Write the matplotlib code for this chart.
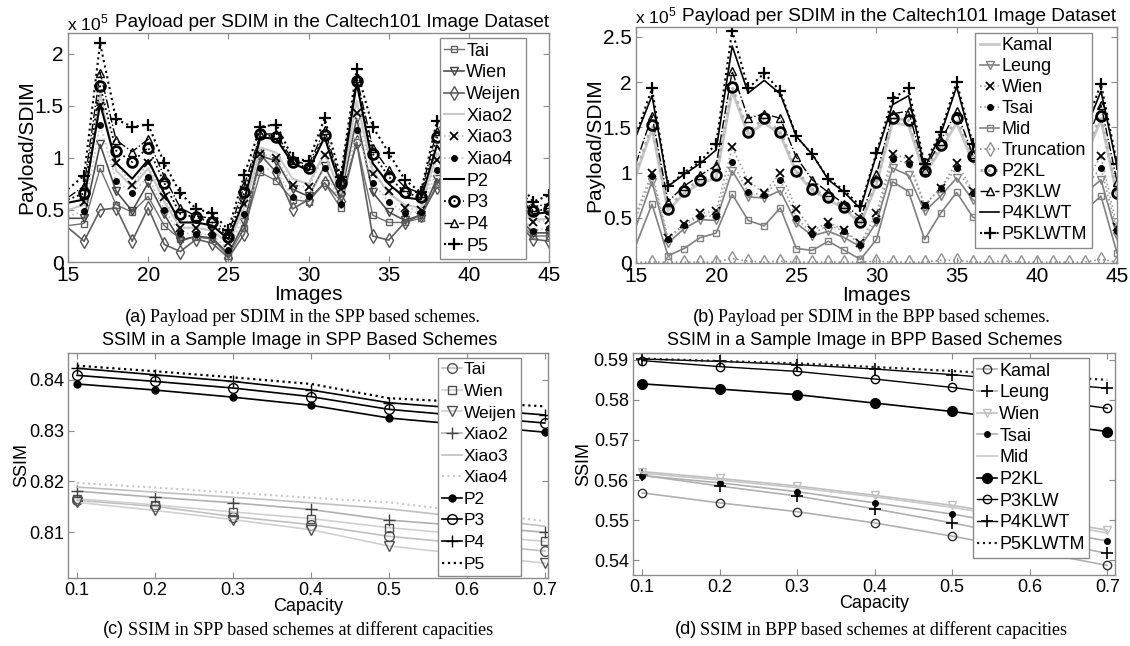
import matplotlib
matplotlib.use('Agg')
from matplotlib import pyplot as plt

plt.rcParams['font.family'] = ['Liberation Sans', 'DejaVu Sans']
plt.rcParams['mathtext.fontset'] = 'custom'
plt.rcParams['mathtext.rm'] = 'Liberation Sans'

# ---------- (a) payload per SDIM, SPP schemes ----------
images = list(range(15, 46))
spp_names = ['Tai', 'Wien', 'Weijen', 'Xiao2', 'Xiao3', 'Xiao4', 'P2', 'P3', 'P4', 'P5']
spp_tai = [0.35, 0.37, 0.90, 0.55, 0.48, 0.63, 0.35, 0.22, 0.24, 0.22, 0.06, 0.33, 0.86, 0.78, 0.60, 0.58,
           0.76, 0.52, 1.15, 0.45, 0.38, 0.38, 0.42, 0.75, 0.58, 0.50, 0.54, 0.46, 0.40, 0.25, 0.25]
spp_wien = [0.42, 0.42, 1.13, 0.68, 0.49, 0.76, 0.46, 0.20, 0.25, 0.23, 0.08, 0.38, 1.02, 0.97, 0.70, 0.63,
            0.92, 0.62, 1.38, 0.67, 0.48, 0.40, 0.45, 0.80, 0.62, 0.55, 0.58, 0.50, 0.44, 0.28, 0.28]
spp_weijen = [0.33, 0.20, 0.50, 0.52, 0.20, 0.52, 0.17, 0.10, 0.22, 0.18, 0.04, 0.27, 1.03, 0.86, 0.51, 0.60,
              0.76, 0.59, 1.15, 0.25, 0.21, 0.38, 0.45, 0.72, 0.55, 0.48, 0.52, 0.44, 0.38, 0.22, 0.20]
spp_xiao2 = [0.50, 0.55, 1.62, 0.88, 0.72, 0.90, 0.58, 0.33, 0.33, 0.30, 0.18, 0.52, 1.10, 1.05, 0.80, 0.75,
             1.05, 0.66, 1.55, 0.88, 0.66, 0.55, 0.52, 1.05, 0.82, 0.72, 0.76, 0.66, 0.58, 0.40, 0.42]
spp_xiao3 = [0.48, 0.58, 1.50, 0.95, 0.74, 0.95, 0.62, 0.33, 0.33, 0.30, 0.18, 0.56, 1.04, 1.00, 0.74, 0.72,
             1.03, 0.70, 1.43, 0.85, 0.68, 0.52, 0.50, 0.98, 0.78, 0.68, 0.72, 0.62, 0.55, 0.38, 0.40]
spp_xiao4 = [0.44, 0.49, 1.32, 0.78, 0.66, 0.82, 0.50, 0.28, 0.27, 0.26, 0.12, 0.46, 0.90, 0.88, 0.62, 0.63,
             0.90, 0.56, 1.27, 0.76, 0.58, 0.47, 0.48, 0.88, 0.70, 0.62, 0.66, 0.56, 0.50, 0.30, 0.33]
spp_p2 = [0.57, 0.60, 1.52, 0.95, 0.80, 0.98, 0.66, 0.38, 0.38, 0.35, 0.22, 0.60, 1.20, 1.18, 0.95, 0.88,
          1.20, 0.72, 1.72, 0.95, 0.75, 0.62, 0.60, 1.12, 0.90, 0.80, 0.84, 0.74, 0.66, 0.46, 0.48]
spp_p3 = [0.60, 0.66, 1.69, 1.07, 0.96, 1.10, 0.76, 0.46, 0.43, 0.38, 0.24, 0.67, 1.23, 1.20, 0.96, 0.90,
          1.22, 0.76, 1.74, 1.04, 0.82, 0.67, 0.62, 1.20, 0.95, 0.84, 0.88, 0.78, 0.70, 0.49, 0.51]
spp_p4 = [0.62, 0.73, 1.82, 1.17, 1.06, 1.18, 0.82, 0.52, 0.44, 0.42, 0.27, 0.74, 1.23, 1.23, 0.98, 0.93,
          1.27, 0.78, 1.77, 1.10, 0.88, 0.72, 0.66, 1.26, 1.00, 0.88, 0.92, 0.82, 0.74, 0.53, 0.56]
spp_p5 = [0.70, 0.83, 2.10, 1.37, 1.30, 1.32, 0.95, 0.66, 0.51, 0.47, 0.31, 0.84, 1.30, 1.32, 1.00, 0.97,
          1.38, 0.82, 1.85, 1.30, 1.05, 0.79, 0.67, 1.35, 1.10, 0.95, 1.00, 0.90, 0.80, 0.58, 0.64]

# ---------- (b) payload per SDIM, BPP schemes ----------
bpp_names = ['Kamal', 'Leung', 'Wien', 'Tsai', 'Mid', 'Truncation', 'P2KL', 'P3KLW', 'P4KLWT', 'P5KLWTM']
bpp_kamal = [0.97, 1.48, 0.58, 0.77, 0.88, 0.94, 1.90, 1.42, 1.55, 1.42, 1.00, 0.80, 0.70, 0.60, 0.43, 0.87,
             1.55, 1.52, 0.98, 1.25, 1.55, 1.12, 0.95, 1.10, 1.00, 0.86, 0.98, 1.05, 1.17, 1.58, 0.74]
bpp_leung = [0.40, 0.90, 0.22, 0.38, 0.48, 0.47, 1.02, 0.73, 0.72, 0.80, 0.44, 0.30, 0.35, 0.28, 0.18, 0.45,
             1.05, 0.97, 0.57, 0.74, 0.94, 0.70, 0.60, 0.70, 0.62, 0.50, 0.60, 0.67, 0.77, 0.92, 0.30]
bpp_wien = [0.55, 1.00, 0.28, 0.43, 0.55, 0.57, 1.28, 0.91, 0.77, 1.00, 0.60, 0.36, 0.45, 0.36, 0.22, 0.55,
            1.21, 1.15, 0.64, 0.83, 1.11, 0.80, 0.70, 0.80, 0.72, 0.60, 0.70, 0.78, 0.90, 1.18, 0.40]
bpp_tsai = [0.50, 0.96, 0.26, 0.42, 0.52, 0.52, 1.12, 0.78, 0.75, 0.92, 0.50, 0.32, 0.42, 0.35, 0.20, 0.48,
            1.15, 1.10, 0.64, 0.83, 1.05, 0.77, 0.65, 0.75, 0.68, 0.56, 0.66, 0.73, 0.84, 1.05, 0.35]
bpp_mid = [0.20, 0.65, 0.08, 0.16, 0.28, 0.33, 0.76, 0.47, 0.41, 0.61, 0.16, 0.14, 0.24, 0.14, 0.04, 0.26,
           0.90, 0.79, 0.26, 0.55, 0.78, 0.51, 0.40, 0.50, 0.42, 0.32, 0.40, 0.48, 0.58, 0.74, 0.11]
bpp_trunc = [0.01, 0.01, 0.01, 0.01, 0.01, 0.01, 0.05, 0.02, 0.01, 0.02, 0.01, 0.01, 0.01, 0.01, 0.01, 0.02,
             0.01, 0.01, 0.01, 0.03, 0.03, 0.01, 0.01, 0.02, 0.01, 0.01, 0.01, 0.01, 0.01, 0.04, 0.01]
bpp_p2 = [1.00, 1.53, 0.60, 0.80, 0.92, 0.97, 1.95, 1.45, 1.60, 1.45, 1.02, 0.82, 0.73, 0.62, 0.45, 0.90,
          1.60, 1.58, 1.02, 1.30, 1.60, 1.18, 1.00, 1.15, 1.05, 0.90, 1.02, 1.10, 1.22, 1.63, 0.77]
bpp_p3 = [1.10, 1.63, 0.68, 0.85, 0.97, 1.08, 2.12, 1.60, 1.65, 1.60, 1.17, 0.92, 0.78, 0.65, 0.50, 0.98,
          1.65, 1.68, 1.03, 1.35, 1.68, 1.20, 1.05, 1.22, 1.12, 0.95, 1.08, 1.18, 1.30, 1.75, 0.90]
bpp_p4 = [1.40, 1.85, 0.85, 0.98, 1.10, 1.25, 2.40, 1.88, 2.02, 1.87, 1.40, 1.20, 0.92, 0.78, 0.60, 1.20,
          1.75, 1.85, 1.05, 1.42, 1.95, 1.30, 1.18, 1.36, 1.27, 1.08, 1.22, 1.32, 1.46, 1.90, 1.07]
bpp_p5 = [1.42, 1.93, 0.85, 1.00, 1.12, 1.32, 2.57, 1.93, 2.10, 1.90, 1.40, 1.20, 0.93, 0.80, 0.63, 1.22,
          1.82, 1.93, 1.09, 1.45, 2.00, 1.32, 1.20, 1.40, 1.30, 1.10, 1.25, 1.35, 1.50, 1.98, 1.10]

# ---------- (c) SSIM, SPP schemes ----------
capacity = [0.1, 0.2, 0.3, 0.4, 0.5, 0.7]
ssim_spp_tai = [0.8163, 0.8151, 0.8131, 0.8115, 0.8092, 0.8063]
ssim_spp_wien = [0.8166, 0.8154, 0.8140, 0.8127, 0.8109, 0.8082]
ssim_spp_weijen = [0.8159, 0.8143, 0.8125, 0.8105, 0.8073, 0.8039]
ssim_spp_xiao2 = [0.8181, 0.8169, 0.8158, 0.8145, 0.8124, 0.8100]
ssim_spp_xiao3 = [0.8189, 0.8179, 0.8169, 0.8158, 0.8146, 0.8112]
ssim_spp_xiao4 = [0.8197, 0.8188, 0.8178, 0.8168, 0.8159, 0.8122]
ssim_spp_p2 = [0.8392, 0.8380, 0.8366, 0.8350, 0.8325, 0.8297]
ssim_spp_p3 = [0.8409, 0.8397, 0.8384, 0.8367, 0.8342, 0.8315]
ssim_spp_p4 = [0.8423, 0.8410, 0.8397, 0.8380, 0.8355, 0.8331]
ssim_spp_p5 = [0.8428, 0.8417, 0.8405, 0.8392, 0.8364, 0.8348]

# ---------- (d) SSIM, BPP schemes ----------
bpp_ssim_names = ['Kamal', 'Leung', 'Wien', 'Tsai', 'Mid', 'P2KL', 'P3KLW', 'P4KLWT', 'P5KLWTM']
ssim_bpp_kamal = [0.5568, 0.5543, 0.5521, 0.5493, 0.5460, 0.5387]
ssim_bpp_leung = [0.5612, 0.5585, 0.5560, 0.5528, 0.5493, 0.5417]
ssim_bpp_wien = [0.5621, 0.5604, 0.5585, 0.5562, 0.5537, 0.5475]
ssim_bpp_tsai = [0.5611, 0.5593, 0.5571, 0.5543, 0.5515, 0.5448]
ssim_bpp_mid = [0.5617, 0.5600, 0.5581, 0.5558, 0.5532, 0.5468]
ssim_bpp_p2 = [0.5840, 0.5827, 0.5813, 0.5792, 0.5771, 0.5721]
ssim_bpp_p3 = [0.5898, 0.5883, 0.5871, 0.5852, 0.5831, 0.5779]
ssim_bpp_p4 = [0.5902, 0.5896, 0.5888, 0.5877, 0.5863, 0.5829]
ssim_bpp_p5 = [0.5903, 0.5897, 0.5891, 0.5882, 0.5872, 0.5850]

# line styles: (color, linestyle, marker, marker face, marker edge, marker size, line width, marker edge width)
style_a = [('#707070', '-', 's', 'none', '#606060', 5, 1.0, 1.0),
           ('#505050', '-', 'v', 'none', '#404040', 6, 1.2, 1.0),
           ('#606060', '-', 'd', 'none', '#555555', 7, 1.2, 1.0),
           ('#c8c8c8', '-', None, 'none', 'k', 6, 1.5, 1.0),
           ('#c0c0c0', ':', 'x', 'none', 'k', 6, 1.2, 1.3),
           ('#c0c0c0', ':', 'o', 'k', 'k', 4, 1.2, 1.0),
           ('k', '-', None, 'none', 'k', 6, 1.5, 1.0),
           ('k', ':', 'o', 'none', 'k', 7, 1.3, 2.0),
           ('k', '-.', '^', 'none', 'k', 6, 1.0, 1.0),
           ('k', ':', '+', 'none', 'k', 9, 1.5, 1.6)]
style_b = [('#c8c8c8', '-', None, 'none', 'k', 6, 2.0, 1.0),
           ('#808080', '-', 'v', 'none', '#808080', 6, 1.2, 1.0),
           ('#a0a0a0', ':', 'x', 'none', 'k', 6, 1.2, 1.3),
           ('#a0a0a0', ':', 'o', 'k', 'k', 4, 1.2, 1.0),
           ('#808080', '-', 's', 'none', '#808080', 5, 1.2, 1.0),
           ('#909090', ':', 'd', 'none', '#909090', 7, 1.2, 1.0),
           ('#b0b0b0', ':', 'o', 'none', 'k', 7, 2.0, 2.0),
           ('k', '-.', '^', 'none', 'k', 6, 1.0, 1.0),
           ('k', '-', None, 'none', 'k', 6, 1.2, 1.0),
           ('k', ':', '+', 'none', 'k', 9, 1.5, 1.6)]
style_c = [('#c0c0c0', '-', 'o', 'none', '#505050', 7, 1.2, 1.0),
           ('#d0d0d0', '-', 's', 'none', '#505050', 6, 1.2, 1.0),
           ('#d0d0d0', '-', 'v', 'none', '#505050', 7, 1.2, 1.0),
           ('#b0b0b0', '-', '+', 'none', '#404040', 9, 1.2, 1.0),
           ('#c0c0c0', '-', None, 'none', 'k', 6, 1.2, 1.0),
           ('#c8c8c8', ':', None, 'none', 'k', 6, 1.5, 1.0),
           ('k', '-', 'o', 'k', 'k', 5, 1.2, 1.0),
           ('k', '-', 'o', 'none', 'k', 7, 1.2, 1.0),
           ('k', '-', '+', 'none', 'k', 9, 1.2, 1.0),
           ('k', ':', None, 'none', 'k', 6, 1.6, 1.0)]
style_d = [('#b0b0b0', '-', 'o', 'none', '#303030', 6, 1.2, 1.0),
           ('#b0b0b0', '-', '+', 'none', 'k', 9, 1.2, 1.2),
           ('#c0c0c0', '-', 'v', 'none', '#c0c0c0', 6, 1.2, 1.0),
           ('#b0b0b0', '-', 'o', 'k', 'k', 4, 1.2, 1.0),
           ('#c8c8c8', '-', None, 'none', 'k', 6, 1.2, 1.0),
           ('k', '-', 'o', 'k', 'k', 7, 1.2, 1.0),
           ('k', '-', 'o', 'none', 'k', 6, 1.0, 1.0),
           ('k', '-', '+', 'none', 'k', 9, 1.0, 1.2),
           ('#202020', ':', None, 'none', 'k', 6, 1.6, 1.0)]


def draw(ax, x, series, names, styles, skip_first=False):
    for y, name, st in zip(series, names, styles):
        col, ls, mk, mfc, mec, ms, lw, mew = st
        ax.plot(x, y, color=col, linestyle=ls, marker=mk, markerfacecolor=mfc,
                markeredgecolor=mec, markersize=ms, linewidth=lw, markeredgewidth=mew,
                markevery=slice(1, None) if skip_first else None, label=name)


def box_style(ax, fs):
    for s in ax.spines.values():
        s.set_color('#8a8a8a')
        s.set_linewidth(1.0)
    ax.tick_params(direction='in', top=True, right=True, labelsize=fs,
                   color='#8a8a8a', length=4, pad=3)


def legend(ax, anchor, fs, spacing):
    lg = ax.legend(loc='upper left', bbox_to_anchor=anchor, fontsize=fs, frameon=True,
                   fancybox=False, edgecolor='#8a8a8a', framealpha=1, borderpad=0.25,
                   labelspacing=spacing, handlelength=1.1, handletextpad=0.12,
                   borderaxespad=0)
    lg.get_frame().set_linewidth(1.0)


fig = plt.figure(figsize=(11.3, 6.46), dpi=100)

# (a)
ax = fig.add_axes([0.0602, 0.5944, 0.4257, 0.3545])
draw(ax, images, [spp_tai, spp_wien, spp_weijen, spp_xiao2, spp_xiao3, spp_xiao4,
                  spp_p2, spp_p3, spp_p4, spp_p5], spp_names, style_a, skip_first=True)
ax.set_xlim(15, 45)
ax.set_ylim(0, 2.2)
ax.set_xticks([15, 20, 25, 30, 35, 40, 45])
ax.set_yticks([0, 0.5, 1, 1.5, 2])
ax.set_yticklabels(['0', '0.5', '1', '1.5', '2'])
box_style(ax, 15)
ax.set_xlabel('Images', fontsize=15, labelpad=0)
ax.set_ylabel('Payload/SDIM', fontsize=15, labelpad=-1)
ax.text(0.549, 1.045, 'Payload per SDIM in the Caltech101 Image Dataset', transform=ax.transAxes,
        ha='center', va='center', fontsize=13.7)
ax.text(-0.002, 1.045, r'x 10$^5$', transform=ax.transAxes, ha='left', va='center', fontsize=12.5)
legend(ax, (0.773, 0.978), 13, 0.26)

# (b)
ax = fig.add_axes([0.5628, 0.5929, 0.4257, 0.3653])
draw(ax, images, [bpp_kamal, bpp_leung, bpp_wien, bpp_tsai, bpp_mid, bpp_trunc,
                  bpp_p2, bpp_p3, bpp_p4, bpp_p5], bpp_names, style_b, skip_first=True)
ax.set_xlim(15, 45)
ax.set_ylim(0, 2.61)
ax.set_xticks([15, 20, 25, 30, 35, 40, 45])
ax.set_yticks([0, 0.5, 1, 1.5, 2, 2.5])
ax.set_yticklabels(['0', '0.5', '1', '1.5', '2', '2.5'])
box_style(ax, 15)
ax.set_xlabel('Images', fontsize=15, labelpad=0)
ax.set_ylabel('Payload/SDIM', fontsize=15, labelpad=-1)
ax.text(0.547, 1.045, 'Payload per SDIM in the Caltech101 Image Dataset', transform=ax.transAxes,
        ha='center', va='center', fontsize=13.7)
ax.text(-0.002, 1.045, r'x 10$^5$', transform=ax.transAxes, ha='left', va='center', fontsize=12.5)
legend(ax, (0.705, 0.975), 13, 0.22)

# (c)
ax = fig.add_axes([0.0602, 0.1053, 0.4248, 0.3483])
draw(ax, capacity, [ssim_spp_tai, ssim_spp_wien, ssim_spp_weijen, ssim_spp_xiao2, ssim_spp_xiao3,
                    ssim_spp_xiao4, ssim_spp_p2, ssim_spp_p3, ssim_spp_p4, ssim_spp_p5],
     spp_names, style_c)
ax.set_xlim(0.0885, 0.704)
ax.set_ylim(0.801, 0.8453)
ax.set_xticks([0.1, 0.2, 0.3, 0.4, 0.5, 0.6, 0.7])
ax.set_yticks([0.81, 0.82, 0.83, 0.84])
box_style(ax, 13)
ax.set_xlabel('Capacity', fontsize=13, labelpad=-1)
ax.set_ylabel('SSIM', fontsize=13, labelpad=-1)
ax.text(0.483, 1.055, 'SSIM in a Sample Image in SPP Based Schemes', transform=ax.transAxes,
        ha='center', va='center', fontsize=13)
legend(ax, (0.771, 0.978), 12.5, 0.37)

# (d)
ax = fig.add_axes([0.5602, 0.1099, 0.4265, 0.3437])
draw(ax, capacity, [ssim_bpp_kamal, ssim_bpp_leung, ssim_bpp_wien, ssim_bpp_tsai, ssim_bpp_mid,
                    ssim_bpp_p2, ssim_bpp_p3, ssim_bpp_p4, ssim_bpp_p5], bpp_ssim_names, style_d)
ax.set_xlim(0.0884, 0.710)
ax.set_ylim(0.5363, 0.5917)
ax.set_xticks([0.1, 0.2, 0.3, 0.4, 0.5, 0.6, 0.7])
ax.set_yticks([0.54, 0.55, 0.56, 0.57, 0.58, 0.59])
box_style(ax, 13)
ax.set_xlabel('Capacity', fontsize=13, labelpad=-1)
ax.set_ylabel('SSIM', fontsize=13, labelpad=1)
ax.text(0.481, 1.055, 'SSIM in a Sample Image in BPP Based Schemes', transform=ax.transAxes,
        ha='center', va='center', fontsize=13)
legend(ax, (0.705, 0.977), 13, 0.26)

# captions
serif = ['Liberation Serif', 'DejaVu Serif']
for tag, txt, x0, y0 in [('(a)', 'Payload per SDIM in the SPP based schemes.', 125, 318),
                         ('(b)', 'Payload per SDIM in the BPP based schemes.', 693, 318),
                         ('(c)', 'SSIM in SPP based schemes at different capacities', 103, 630),
                         ('(d)', 'SSIM in BPP based schemes at different capacities', 675, 630)]:
    fig.text(x0 / 1130, 1 - y0 / 646, tag, ha='left', va='center', fontsize=13)
    fig.text((x0 + 25) / 1130, 1 - y0 / 646, txt, ha='left', va='center', fontsize=13,
             family=serif)

fig.savefig('out.png', dpi=100)
